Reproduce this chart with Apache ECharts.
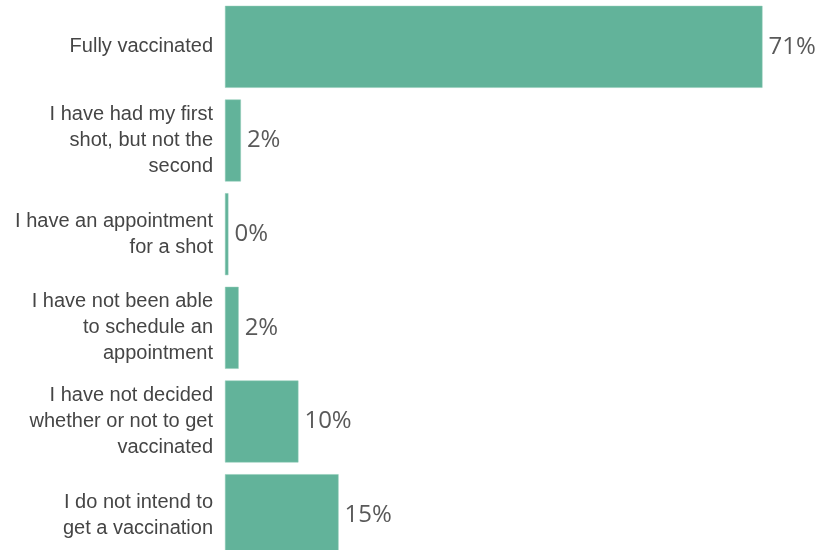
<!DOCTYPE html>
<html>
<head>
<meta charset="utf-8">
<script src="https://cdn.jsdelivr.net/npm/echarts@6/dist/echarts.min.js"></script>
<style>
  html, body { margin: 0; padding: 0; background: #fff; }
  #chart { width: 820px; height: 550px; }
</style>
</head>
<body>
<div id="chart"></div>
<script>
// answers, top to bottom
const categories = [
  "Fully vaccinated",
  "I have had my first\nshot, but not the\nsecond",
  "I have an appointment\nfor a shot",
  "I have not been able\nto schedule an\nappointment",
  "I have not decided\nwhether or not to get\nvaccinated",
  "I do not intend to\nget a vaccination"
];
// bar lengths (percent)
const values = [71.0, 2.1, 0.45, 1.8, 9.7, 15.0];
// printed labels
const labels = ["71%", "2%", "0%", "2%", "10%", "15%"];

const chart = echarts.init(document.getElementById("chart"));

chart.setOption({
  animation: false,
  grid: {
    left: 225, top: 0, width: 567.75, height: 562,
    outerBoundsMode: "none", containLabel: false
  },
  xAxis: {
    type: "value",
    min: 0,
    max: 75,
    show: false
  },
  yAxis: {
    type: "category",
    data: categories,
    inverse: true,
    axisLine: { show: false },
    axisTick: { show: false },
    splitLine: { show: false },
    axisLabel: {
      margin: 12,
      fontFamily: "'Liberation Sans', Arial, sans-serif",
      fontSize: 20,
      lineHeight: 26,
      color: "#454545",
      align: "right"
    }
  },
  series: [
    {
      type: "bar",
      data: values,
      barCategoryGap: "12.5%",
      itemStyle: {
        color: "#62b39a",
        borderColor: "#8fcab7",
        borderWidth: 0.5
      },
      label: {
        show: true,
        position: "right",
        distance: 6,
        fontFamily: "'Open Sans', sans-serif",
        fontSize: 24,
        color: "#595959",
        formatter: (p) => labels[p.dataIndex]
      }
    }
  ]
});
</script>
</body>
</html>
